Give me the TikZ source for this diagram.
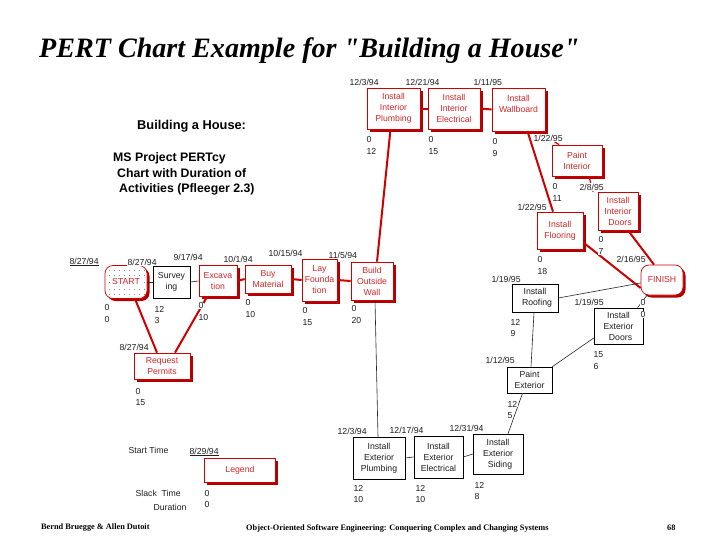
\documentclass[tikz,border=0pt]{standalone}
\usepackage{fontspec}
\setmainfont{Liberation Sans}
\newfontfamily\tnr{Liberation Serif}
\usetikzlibrary{shadows,calc}
\definecolor{myred}{RGB}{204,0,0}
\definecolor{shred}{RGB}{178,0,0}
\definecolor{txred}{RGB}{212,40,40}
\definecolor{txblk}{RGB}{30,30,30}
\tikzset{
  rbox/.style={draw=myred, line width=0.7pt, fill=white, text=txred, align=center, inner sep=0pt,
    font=\fontsize{8.7}{11}\selectfont,
    drop shadow={shadow xshift=2.5pt, shadow yshift=-2.5pt, fill=shred, opacity=1}},
  bbox/.style={draw=black, line width=0.6pt, fill=white, text=txblk, align=center, inner sep=0pt,
    font=\fontsize{8.7}{11}\selectfont},
  crit/.style={draw=myred, line width=2pt},
  thincrit/.style={draw=myred, line width=1.2pt},
  norm/.style={draw=black!85, line width=0.6pt},
  lbl/.style={font=\fontsize{8.7}{10}\selectfont, inner sep=0.4pt, fill=white, anchor=west, text=txblk},
  hdr/.style={font=\bfseries\fontsize{12.3}{14}\selectfont, anchor=west, inner sep=0pt},
  foot/.style={font=\tnr\bfseries\fontsize{8.3}{9}\selectfont, anchor=west, inner sep=0pt},
  dot/.style={fill=black!70},
}
\newcommand\bx[7]{\node[#2, minimum width=#5pt, minimum height=#6pt] (#1) at (#3,#4) {#7};}
\newcommand\sd[5]{\node[lbl] (#1s) at (#2,#3) {#4}; \node[lbl] (#1d) at (#2,#3+11.5) {#5};}
\begin{document}
\begin{tikzpicture}[x=1pt,y=-1pt]
\fill[white] (0,0) rectangle (728,546);
\useasboundingbox (0,0) rectangle (728,546);

% title and headings
\node[anchor=base west, inner sep=0pt, font=\tnr\bfseries\itshape\fontsize{28.1}{30}\selectfont] (title) at (39,57) {PERT Chart Example for "Building a House"};
\node[hdr, font=\bfseries\fontsize{12.8}{14}\selectfont] (h1) at (137,126) {Building a House:};
\node[hdr] (h2) at (113,158) {MS Project PERTcy};
\node[hdr] (h3) at (117,173) {Chart with Duration of};
\node[hdr] (h4) at (119,189) {Activities (Pfleeger 2.3)};

% boxes
\node[rbox, rounded corners=8pt, minimum width=42pt, minimum height=33pt] (st) at (126,282) {START};
\foreach \y in {270.5,275.5,289.5,294.5}
  \foreach \x in {109.5,114.5,...,144.5}
    \fill[dot] (\x,\y) circle (0.45pt);
\foreach \x in {109.5,144.5}
  \fill[dot] (\x,282.5) circle (0.45pt);
\bx{sv}{bbox}{171.5}{282}{37}{32}{Survey\\ing}
\bx{ex}{rbox}{218}{281}{38}{31}{Excava\\tion}
\bx{bm}{rbox}{268}{279}{46}{28}{Buy\\Material}
\bx{lf}{rbox}{319.5}{280}{35}{42}{Lay\\Founda\\tion}
\bx{bw}{rbox}{372}{281}{42}{38}{Build\\Outside\\Wall}
\bx{rp}{rbox}{162}{366}{56}{26}{Request\\Permits}
\bx{ipl}{rbox}{393.5}{108.5}{53}{41}{Install\\Interior\\Plumbing}
\bx{iel}{rbox}{454}{108.5}{52}{41}{Install\\Interior\\Electrical}
\bx{iwb}{rbox}{518.5}{109.5}{53}{43}{Install\\Wallboard\\\mbox{}}
\bx{pin}{rbox}{577}{160.5}{50}{31}{Paint\\Interior}
\bx{idr}{rbox}{618}{211}{40}{38}{Install\\Interior\\\hspace*{4pt}Doors}
\bx{ifl}{rbox}{560}{230.5}{46}{37}{Install\\Flooring}
\node[rbox, rounded corners=8pt, minimum width=42pt, minimum height=30pt] (fin) at (662,280) {FINISH};
\bx{rfg}{bbox}{535}{298}{46}{28}{Install\\\hspace*{4pt}Roofing}
\bx{edr}{bbox}{618.5}{326}{49}{36}{Install\\Exterior\\\hspace*{4pt}Doors}
\bx{pex}{bbox}{529.5}{380}{45}{26}{Paint\\Exterior}
\bx{epl}{bbox}{379}{458}{52}{42}{Install\\Exterior\\Plumbing}
\bx{eel}{bbox}{438.5}{457}{49}{42}{Install\\Exterior\\Electrical}
\bx{esd}{bbox}{498}{454}{50}{40}{Install\\Exterior\\\hspace*{4pt}Siding}
\bx{lg}{rbox}{240}{470}{71}{24}{Legend}

% connectors
\draw[norm] (st.east) -- (sv.west);
\draw[norm] (sv.east) -- (ex.west);
\draw[crit] (ex.east) -- (bm.west);
\draw[crit] (bm.east) -- (lf.west);
\draw[crit] (lf.east) -- (bw.west);
\draw[crit] ([xshift=9pt]st.south) -- ([xshift=-5pt]rp.north);
\draw[crit] ([xshift=13pt]rp.north) -- ([xshift=-11pt]ex.south);
\draw[crit] ([xshift=5pt]bw.north) -- ([xshift=-3pt]ipl.south);
\draw[crit] (ipl.east) -- (iel.west);
\draw[crit] (iel.east) -- (iwb.west);
\draw[crit] ([xshift=9pt]iwb.south) -- ([xshift=-7pt]ifl.north);
\draw[thincrit] ([xshift=20pt]iwb.south) -- ([xshift=-18pt]pin.north);
\draw[thincrit] ([xshift=12pt]pin.south) -- ([xshift=-25pt]idr.north);
\draw[crit] ([xshift=10pt]idr.south) -- ([xshift=-8pt]fin.north);
\draw[crit] ([yshift=-12pt]ifl.east) -- ([yshift=-8pt]fin.west);
\draw[norm] (rfg.east) -- ([yshift=-3pt]fin.west);
\draw[norm] ([xshift=-15pt]fin.south) -- ([xshift=19pt]edr.north);
\draw[norm] ([xshift=-1pt]rfg.south) -- ([xshift=1.5pt]pex.north);
\draw[norm] (pex.north east) -- ([yshift=-12pt]edr.west);
\draw[norm] ([xshift=-7pt]pex.south) -- ([xshift=10pt]esd.north);
\draw[norm] (esd.west) -- (eel.east);
\draw[norm] (eel.west) -- (epl.east);
\draw[norm] ([xshift=3pt]bw.south) -- ([xshift=-1pt]epl.north);

% dates
\node[lbl] (d1) at (69,262) {\underline{8/27/94}};
\node[lbl] (d2) at (127,262) {8/27/94};
\node[lbl] (d3) at (173,257) {9/17/94};
\node[lbl] (d4) at (223,259) {10/1/94};
\node[lbl] (d5) at (268,253) {10/15/94};
\node[lbl] (d6) at (328,255) {11/5/94};
\node[lbl] (d7) at (349,82) {12/3/94};
\node[lbl] (d8) at (405,82) {12/21/94};
\node[lbl] (d9) at (473,82) {1/11/95};
\node[lbl] (d10) at (533,138) {1/22/95};
\node[lbl] (d11) at (579,187) {2/8/95};
\node[lbl] (d12) at (517,207) {1/22/95};
\node[lbl] (d13) at (616,259) {2/16/95};
\node[lbl] (d14) at (491,279) {1/19/95};
\node[lbl] (d15) at (574,302) {1/19/95};
\node[lbl] (d16) at (485,360) {1/12/95};
\node[lbl] (d17) at (337,431) {12/3/94};
\node[lbl] (d18) at (389,430) {12/17/94};
\node[lbl] (d19) at (449,428) {12/31/94};
\node[lbl] (d20) at (119,347) {8/27/94};
\node[lbl] (d21) at (189,452) {\underline{8/29/94}};

% slack / duration
\sd{st}{104}{308}{0}{0}
\sd{sv}{154}{309}{12}{3}
\sd{ex}{198}{306}{0}{10}
\sd{bm}{245}{303}{0}{10}
\sd{lf}{302}{311}{0}{15}
\sd{bw}{351}{309}{0}{20}
\sd{ipl}{366}{140}{0}{12}
\sd{iel}{428}{140}{0}{15}
\sd{iwb}{492}{142}{0}{9}
\sd{pin}{552}{187}{0}{11}
\sd{ifl}{537}{260}{0}{18}
\sd{idr}{598}{240}{0}{7}
\sd{fin}{640}{303}{0}{0}
\sd{rfg}{510}{322}{12}{9}
\sd{edr}{593}{355}{15}{6}
\sd{pex}{507}{404}{12}{5}
\sd{epl}{353}{488}{12}{10}
\sd{eel}{415}{488}{12}{10}
\sd{esd}{474}{485}{12}{8}
\sd{rp}{135}{391}{0}{15}
\sd{lg}{204}{493}{0}{0}

% legend captions
\node[lbl] (ls) at (128,450) {Start Time};
\node[lbl] (lt) at (135,493) {Slack\ \ Time};
\node[lbl] (ld) at (153,507) {Duration};

% footer
\node[foot] (f1) at (41,528) {Bernd Bruegge \& Allen Dutoit};
\node[foot] (f2) at (246,528) {Object-Oriented Software Engineering: Conquering Complex and Changing Systems};
\node[foot] (f3) at (667,528) {68};
\end{tikzpicture}
\end{document}
